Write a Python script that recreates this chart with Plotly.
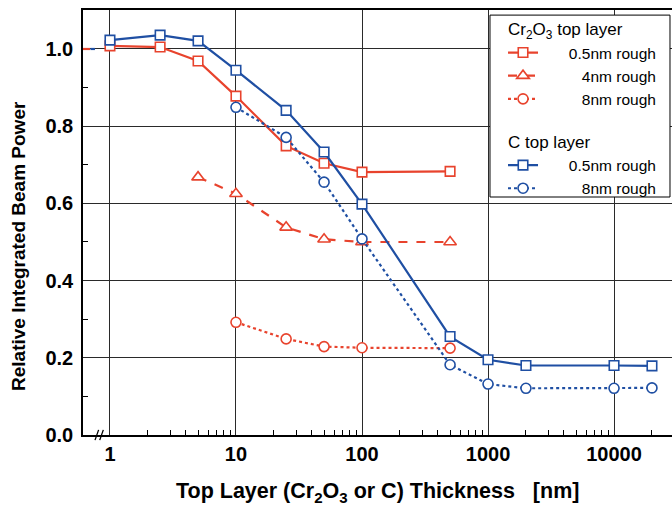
import plotly.graph_objects as go

# ---------------- data ----------------
thk_cr_05 = [1, 2.5, 5, 10, 25, 50, 100, 500]
val_cr_05 = [1.008, 1.005, 0.969, 0.878, 0.749, 0.704, 0.681, 0.683]

thk_cr_4 = [5, 10, 25, 50, 100, 500]
val_cr_4 = [0.668, 0.625, 0.538, 0.507, 0.500, 0.500]

thk_cr_8 = [10, 25, 50, 100, 500]
val_cr_8 = [0.292, 0.249, 0.229, 0.226, 0.225]

thk_c_05 = [1, 2.5, 5, 10, 25, 50, 100, 500, 1000, 2000, 10000, 20000]
val_c_05 = [1.023, 1.036, 1.021, 0.945, 0.841, 0.733, 0.598, 0.255, 0.195, 0.180, 0.180, 0.179]

thk_c_8 = [10, 25, 50, 100, 500, 1000, 2000, 10000, 20000]
val_c_8 = [0.849, 0.771, 0.655, 0.508, 0.182, 0.132, 0.121, 0.121, 0.122]

# bare-substrate reference level drawn left of the axis break
ref_thk_cr = [0.60, 0.694]
ref_thk_c = [0.70, 0.76]
ref_val = [1.0, 1.0]

x_ticks = [1, 10, 100, 1000, 10000]
x_tick_text = ["1", "10", "100", "1000", "10000"]
x_minor = [m * 10 ** e for e in range(0, 5) for m in range(2, 10)]
y_ticks = [0.0, 0.2, 0.4, 0.6, 0.8, 1.0]
y_minor = [0.1, 0.3, 0.5, 0.7, 0.9]

RED = "#E8432D"
BLUE = "#1F4FA3"
NB = "\u00a0"
PAD = NB * 6

fig = go.Figure()

def add(x, y, color, dash, symbol, name, group, gtitle=None, size=9.5):
    kw = {}
    if gtitle:
        kw["legendgrouptitle"] = dict(text=gtitle, font=dict(size=17, color="black"))
    fig.add_trace(go.Scatter(
        x=x, y=y, mode="lines+markers", name=name, legendgroup=group,
        line=dict(color=color, width=2.2, dash=dash),
        marker=dict(symbol=symbol, size=size, color="white",
                    line=dict(color=color, width=1.6)),
        **kw))

add(thk_cr_05, val_cr_05, RED, "solid", "square", PAD + "0.5nm rough", "cr",
    "Cr<sub>2</sub>O<sub>3</sub> top layer")
add(thk_cr_4, val_cr_4, RED, "dash", "triangle-up", PAD + NB * 3 + "4nm rough", "cr", size=11)
add(thk_cr_8, val_cr_8, RED, "dot", "circle", PAD + NB * 3 + "8nm rough", "cr", size=10)
add(thk_c_05, val_c_05, BLUE, "solid", "square", PAD + "0.5nm rough", "c", "C top layer")
add(thk_c_8, val_c_8, BLUE, "dot", "circle", PAD + NB * 3 + "8nm rough", "c", size=10)

fig.add_trace(go.Scatter(x=ref_thk_cr, y=ref_val, mode="lines", showlegend=False,
                         line=dict(color=RED, width=2.2)))
fig.add_trace(go.Scatter(x=ref_thk_c, y=ref_val, mode="lines", showlegend=False,
                         line=dict(color=BLUE, width=2.2)))

# axis break mark
for dx in (0.0, 0.008):
    fig.add_shape(type="line", xref="paper", yref="paper",
                  x0=0.0204 + dx, x1=0.0265 + dx, y0=-0.012, y1=0.012,
                  line=dict(color="black", width=1.3))

# legend frame
fig.add_shape(type="rect", xref="paper", yref="paper", layer="above",
              x0=0.691, x1=0.9966, y0=0.560, y1=0.988,
              fillcolor="white", line=dict(color="black", width=1))

FONT = "Liberation Sans, Arial, sans-serif"

fig.update_xaxes(
    type="log", range=[-0.214, 4.46], automargin=False,
    tickvals=x_ticks, ticktext=x_tick_text,
    tickfont=dict(size=20, color="black", family=FONT, weight="bold"),
    ticks="", showgrid=True, gridcolor="#2a2a2a", gridwidth=1.2,
    showline=True, linecolor="black", linewidth=1.6, mirror=True,
    zeroline=False,
    minor=dict(tickvals=x_minor, ticks="inside", ticklen=5, tickcolor="black",
               tickwidth=1.2, showgrid=False),
)
fig.update_yaxes(
    range=[0, 1.101], tickvals=y_ticks, tickformat=".1f", automargin=False,
    tickfont=dict(size=20, color="black", family=FONT, weight="bold"),
    ticks="", ticklabelstandoff=4, showgrid=True, gridcolor="#2a2a2a", gridwidth=1.2,
    showline=True, linecolor="black", linewidth=1.6, mirror=False,
    zeroline=False,
    minor=dict(tickvals=y_minor, ticks="inside", ticklen=5, tickcolor="black",
               tickwidth=1.2, showgrid=False),
)

fig.add_annotation(text="Relative Integrated Beam Power", textangle=-90,
                   xref="paper", yref="paper", x=-0.1104, y=0.4447,
                   xanchor="center", yanchor="middle", showarrow=False,
                   font=dict(size=19, color="black", family=FONT, weight="bold"))
fig.add_annotation(text="Top Layer (Cr<sub>2</sub>O<sub>3</sub> or C) Thickness" + NB * 3 + "[nm]",
                   xref="paper", yref="paper", x=0.4992, y=-0.1353,
                   xanchor="center", yanchor="middle", showarrow=False,
                   font=dict(size=21.5, color="black", family=FONT, weight="bold"))

fig.update_layout(
    width=672, height=506,
    margin=dict(l=83, r=0, t=10, b=71),
    plot_bgcolor="white", paper_bgcolor="white",
    font=dict(family=FONT, color="black"),
    legend=dict(x=0.7131, y=0.998, xanchor="left", yanchor="top",
                bgcolor="rgba(0,0,0,0)", borderwidth=0,
                font=dict(size=15.5, color="black", family=FONT),
                tracegroupgap=18, traceorder="grouped"),
)

fig.write_html("out.html",
               config={"displayModeBar": False},
               post_script="document.body.style.margin='0';"
                           "document.body.style.overflow='hidden';")
